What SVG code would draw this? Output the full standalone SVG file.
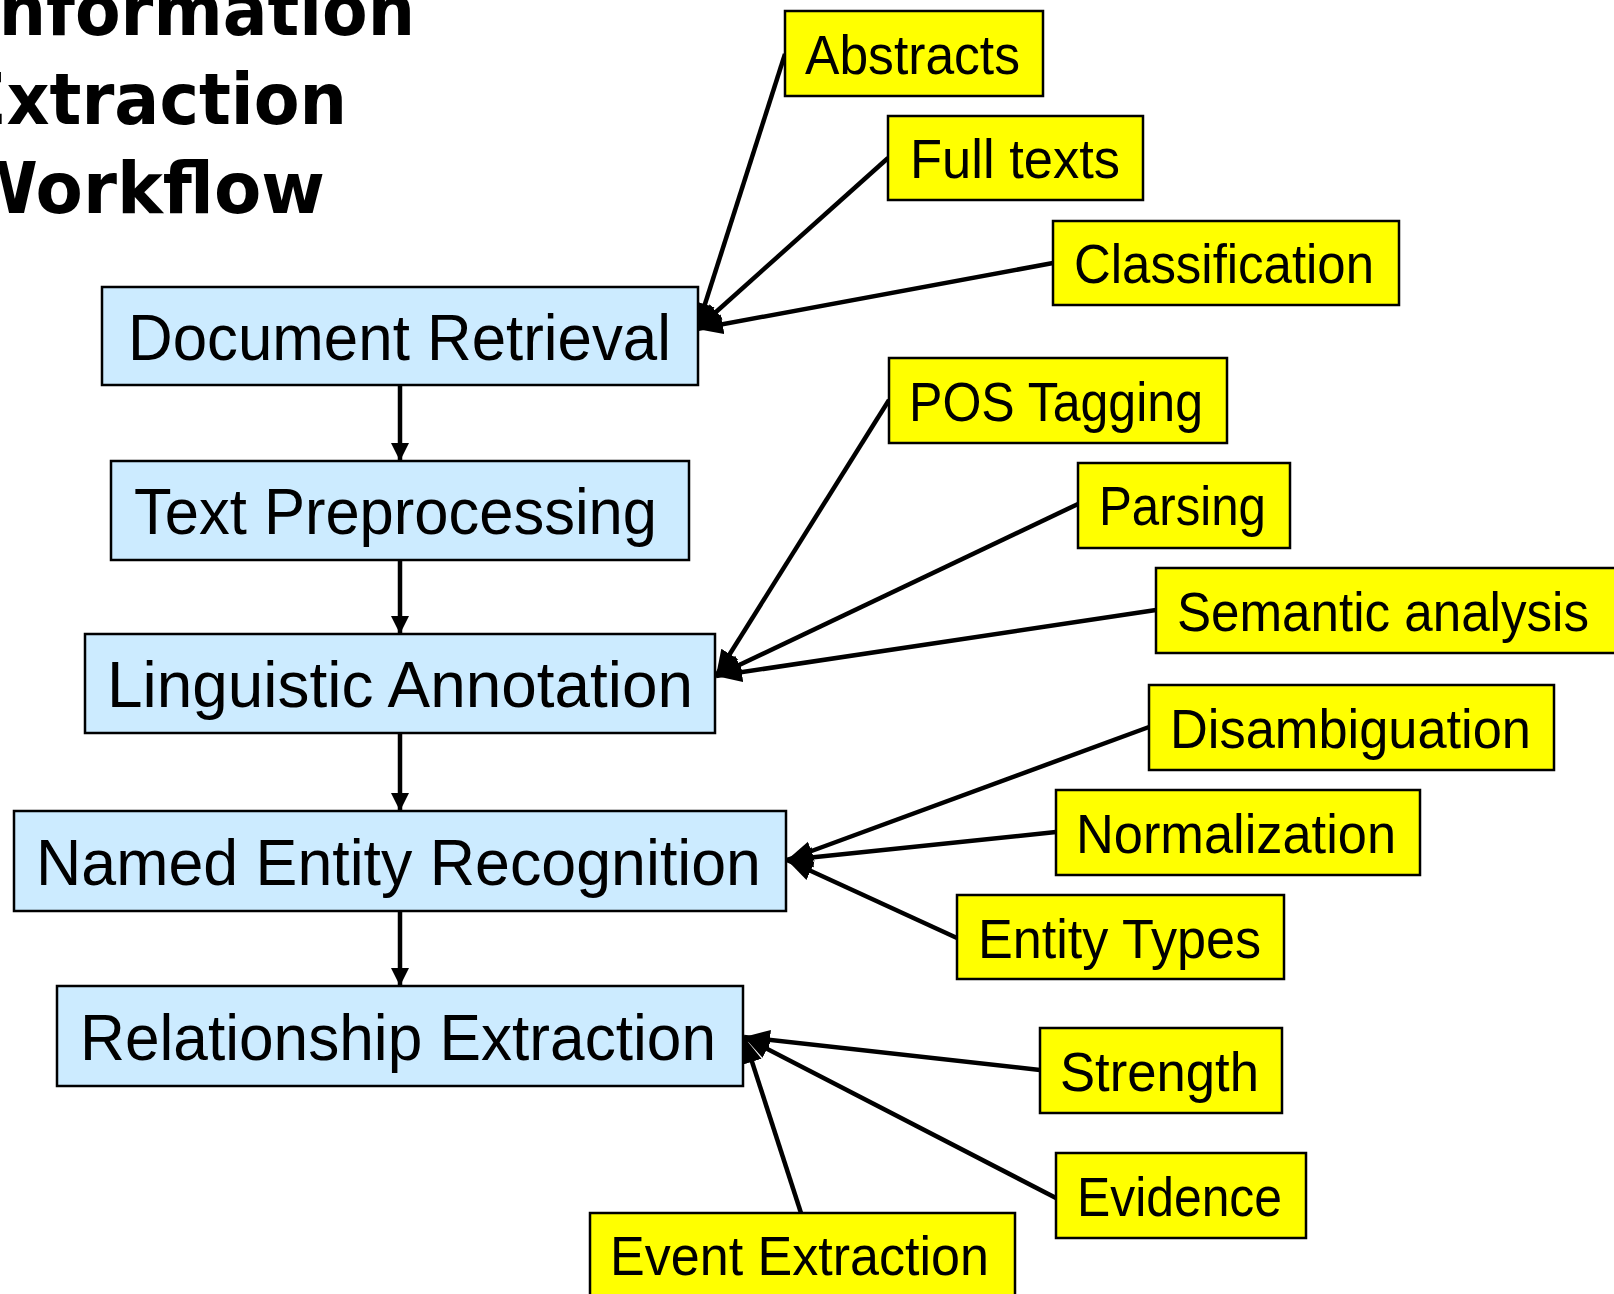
<svg xmlns="http://www.w3.org/2000/svg" width="1614" height="1294" viewBox="0 0 1614 1294">
<style>
.main rect{fill:#CCEBFF;stroke:#000;stroke-width:2.5}
.leaf rect{fill:#FFFF00;stroke:#000;stroke-width:2.5}
.main text{font-family:"Liberation Sans",Arial,sans-serif;font-size:64px;fill:#000}
.leaf text{font-family:"Liberation Sans",Arial,sans-serif;font-size:55px;fill:#000}
.title{font-family:"DejaVu Sans",Verdana,sans-serif;font-weight:bold;font-size:71px;fill:#000}
#connectors line{stroke:#000;stroke-width:4.5;fill:none}
</style>
<defs>
<marker id="ah" markerUnits="userSpaceOnUse" markerWidth="28" markerHeight="22" refX="26" refY="11" orient="auto"><path d="M0,1 L26,11 L0,21 Z" fill="#000"/></marker>
<marker id="av" markerUnits="userSpaceOnUse" markerWidth="18" markerHeight="18" refX="18" refY="9" orient="auto"><path d="M0,0 L18,9 L0,18 Z" fill="#000"/></marker>
</defs>
<rect x="0" y="0" width="1614" height="1294" fill="#fff"/>
<g id="title">
<text class="title" x="415" y="35" text-anchor="end" textLength="441" lengthAdjust="spacingAndGlyphs">Information</text>
<text class="title" x="347" y="124" text-anchor="end" textLength="386" lengthAdjust="spacingAndGlyphs">Extraction</text>
<text class="title" x="325" y="213" text-anchor="end" textLength="363" lengthAdjust="spacingAndGlyphs">Workflow</text>
</g>
<g id="connectors">
<line x1="400" y1="385" x2="400" y2="461" marker-end="url(#av)"/>
<line x1="400" y1="560" x2="400" y2="634" marker-end="url(#av)"/>
<line x1="400" y1="733" x2="400" y2="811" marker-end="url(#av)"/>
<line x1="400" y1="911" x2="400" y2="986" marker-end="url(#av)"/>
<line x1="785" y1="54" x2="697" y2="329" marker-end="url(#ah)"/>
<line x1="888" y1="158" x2="697" y2="329" marker-end="url(#ah)"/>
<line x1="1053" y1="263" x2="697" y2="329" marker-end="url(#ah)"/>
<line x1="889" y1="400" x2="716" y2="676" marker-end="url(#ah)"/>
<line x1="1078" y1="504" x2="716" y2="676" marker-end="url(#ah)"/>
<line x1="1156" y1="610" x2="716" y2="676" marker-end="url(#ah)"/>
<line x1="1149" y1="727" x2="787" y2="860" marker-end="url(#ah)"/>
<line x1="1056" y1="832" x2="787" y2="860" marker-end="url(#ah)"/>
<line x1="957" y1="938" x2="787" y2="860" marker-end="url(#ah)"/>
<line x1="1040" y1="1070" x2="744" y2="1037" marker-end="url(#ah)"/>
<line x1="1056" y1="1198" x2="744" y2="1037" marker-end="url(#ah)"/>
<line x1="801" y1="1213" x2="744" y2="1037" marker-end="url(#ah)"/>
</g>
<g id="n-document-retrieval" class="main"><rect x="102" y="287" width="596" height="98"/><text x="128" y="360" textLength="543" lengthAdjust="spacingAndGlyphs">Document Retrieval</text></g>
<g id="n-text-preprocessing" class="main"><rect x="111" y="461" width="578" height="99"/><text x="134" y="534" textLength="523" lengthAdjust="spacingAndGlyphs">Text Preprocessing</text></g>
<g id="n-linguistic-annotation" class="main"><rect x="85" y="634" width="630" height="99"/><text x="107" y="707" textLength="586" lengthAdjust="spacingAndGlyphs">Linguistic Annotation</text></g>
<g id="n-ner" class="main"><rect x="14" y="811" width="772" height="100"/><text x="36" y="885" textLength="725" lengthAdjust="spacingAndGlyphs">Named Entity Recognition</text></g>
<g id="n-relationship-extraction" class="main"><rect x="57" y="986" width="686" height="100"/><text x="80" y="1060" textLength="636" lengthAdjust="spacingAndGlyphs">Relationship Extraction</text></g>
<g id="n-abstracts" class="leaf"><rect x="785" y="11" width="258" height="85"/><text x="805" y="74" textLength="215" lengthAdjust="spacingAndGlyphs">Abstracts</text></g>
<g id="n-full-texts" class="leaf"><rect x="888" y="116" width="255" height="84"/><text x="910" y="178" textLength="210" lengthAdjust="spacingAndGlyphs">Full texts</text></g>
<g id="n-classification" class="leaf"><rect x="1053" y="221" width="346" height="84"/><text x="1074" y="283" textLength="300" lengthAdjust="spacingAndGlyphs">Classification</text></g>
<g id="n-pos-tagging" class="leaf"><rect x="889" y="358" width="338" height="85"/><text x="909" y="421" textLength="294" lengthAdjust="spacingAndGlyphs">POS Tagging</text></g>
<g id="n-parsing" class="leaf"><rect x="1078" y="463" width="212" height="85"/><text x="1099" y="525" textLength="167" lengthAdjust="spacingAndGlyphs">Parsing</text></g>
<g id="n-semantic-analysis" class="leaf"><rect x="1156" y="568" width="470" height="85"/><text x="1177" y="631" textLength="412" lengthAdjust="spacingAndGlyphs">Semantic analysis</text></g>
<g id="n-disambiguation" class="leaf"><rect x="1149" y="685" width="405" height="85"/><text x="1170" y="748" textLength="361" lengthAdjust="spacingAndGlyphs">Disambiguation</text></g>
<g id="n-normalization" class="leaf"><rect x="1056" y="790" width="364" height="85"/><text x="1076" y="853" textLength="320" lengthAdjust="spacingAndGlyphs">Normalization</text></g>
<g id="n-entity-types" class="leaf"><rect x="957" y="895" width="327" height="84"/><text x="978" y="958" textLength="283" lengthAdjust="spacingAndGlyphs">Entity Types</text></g>
<g id="n-strength" class="leaf"><rect x="1040" y="1028" width="242" height="85"/><text x="1060" y="1091" textLength="199" lengthAdjust="spacingAndGlyphs">Strength</text></g>
<g id="n-evidence" class="leaf"><rect x="1056" y="1153" width="250" height="85"/><text x="1077" y="1216" textLength="205" lengthAdjust="spacingAndGlyphs">Evidence</text></g>
<g id="n-event-extraction" class="leaf"><rect x="590" y="1213" width="425" height="90"/><text x="610" y="1275" textLength="379" lengthAdjust="spacingAndGlyphs">Event Extraction</text></g>
</svg>
